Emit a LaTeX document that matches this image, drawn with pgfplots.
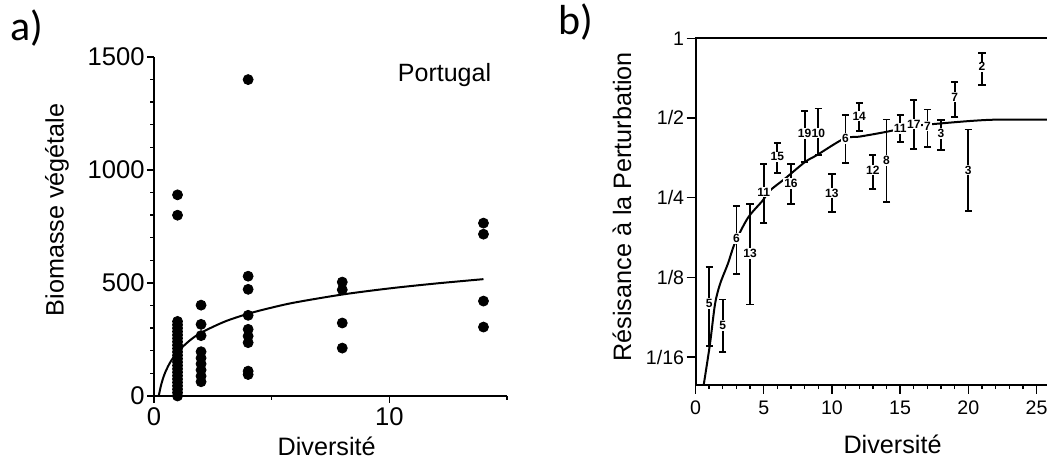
\documentclass[border=0pt]{standalone}
\usepackage{fontspec}
\setmainfont{Liberation Sans}
\newfontfamily\carlito{Carlito}
\usepackage{pgfplots}
\pgfplotsset{compat=1.18}

\begin{document}
\begin{tikzpicture}
\useasboundingbox (0,0) rectangle (523.5pt,229.5pt);

\node[font=\carlito\fontsize{21}{24}\selectfont] at (13.5pt,215.5pt) {a)};
\node[font=\carlito\fontsize{21}{24}\selectfont] at (287.75pt,218.25pt) {b)};

% panel a
\begin{axis}[
    at={(77pt,31.5pt)}, anchor=south west,
    scale only axis, width=176.5pt, height=169.5pt,
    xmin=0, xmax=15, ymin=0, ymax=1500,
    axis x line*=bottom, axis y line*=left,
    axis line style={line width=0.9pt},
    xtick={0,10}, minor xtick={5,15},
    ytick={0,500,1000,1500}, minor y tick num=4,
    tick align=outside,
    major tick length=3.5pt, minor tick length=2pt,
    every tick/.style={black, line width=0.7pt},
    tick label style={font=\fontsize{12.8}{14}\selectfont},
    /pgf/number format/assume math mode=true,
    /pgf/number format/1000 sep={},
    yticklabel style={inner sep=1pt},
    xticklabel style={inner sep=2pt},
    xlabel={Diversité}, ylabel={Biomasse végétale},
    label style={font=\fontsize{12.6}{14}\selectfont},
    xlabel style={at={(axis description cs:0.489,-0.1475)}, anchor=center},
    ylabel style={at={(axis description cs:-0.275,0.549)}, anchor=center},
    clip=false,
]
\addplot[only marks, mark=*, mark size=2.5pt, black] coordinates {
(1,0) (1,15) (1,30) (1,45) (1,60) (1,75) (1,90) (1,105) (1,120) (1,135)
(1,150) (1,165) (1,180) (1,195) (1,210) (1,225) (1,240) (1,255) (1,270)
(1,285) (1,300) (1,315) (1,330) (1,800) (1,890)
(2,63) (2,88) (2,115) (2,142) (2,168) (2,196) (2,267) (2,317) (2,402)
(4,95) (4,110) (4,236) (4,265) (4,295) (4,357) (4,472) (4,530) (4,1400)
(8,212) (8,323) (8,470) (8,504)
(14,305) (14,420) (14,716) (14,765)
};
\addplot[black, line width=1pt, smooth] coordinates {
(0.2,0) (0.3,48) (0.4,83) (0.5,110) (0.7,151) (1,195) (1.5,244) (2,280)
(3,329) (4,364) (5,391) (6,414) (8,449) (10,476) (12,498) (14,517)
};
\node[font=\fontsize{12.5}{14}\selectfont] at (axis description cs:0.823,0.947) {Portugal};
\end{axis}

% panel b
\begin{axis}[
    at={(347.75pt,37pt)}, anchor=south west,
    scale only axis, width=184.15pt, height=173.35pt,
    xmin=0, xmax=27, ymin=0.049, ymax=1,
    ymode=log, log basis y=2,
    axis line style={line width=1pt},
    tick pos=left, tick align=outside,
    xtick={0,5,10,15,20,25}, minor x tick num=4,
    ytick={0.0625,0.125,0.25,0.5,1},
    yticklabels={1/16,1/8,1/4,1/2,1},
    major tick length=4.5pt, minor tick length=2pt,
    every tick/.style={black, line width=0.7pt},
    tick label style={font=\fontsize{9.8}{11}\selectfont},
    /pgf/number format/assume math mode=true,
    yticklabel style={inner sep=1pt},
    xlabel={Diversité}, ylabel={Résisance à la Perturbation},
    label style={font=\fontsize{12.6}{14}\selectfont},
    xlabel style={at={(axis description cs:0.535,-0.17)}, anchor=center},
    ylabel style={at={(axis description cs:-0.1996,0.514)}, anchor=center},
]
\addplot[black, line width=1pt, smooth] coordinates {
(0.6,0.049) (1.06,0.070) (1.43,0.099) (1.8,0.118) (2.38,0.141) (2.9,0.169)
(3.85,0.210) (4.9,0.243) (5.46,0.266) (6.56,0.295) (8.03,0.341) (8.9,0.362)
(10.9,0.418) (12,0.425) (13.97,0.443) (16,0.466) (18,0.477) (20.37,0.488)
(22.3,0.493) (27,0.493)
};
\addplot[draw=none, mark=none,
    error bars/.cd, y dir=both, y explicit,
    error mark=|,
    error bar style={line width=0.9pt, black},
    error mark options={black, line width=0.9pt, mark size=1.8pt},
    ] table[x=x, y=y, y error plus=ep, y error minus=em] {
x  y      ep     em
1  0.0994 0.0371 0.0305
2  0.0821 0.0209 0.0170
3  0.1749 0.0575 0.0461
4  0.1535 0.0825 0.0548
5  0.2626 0.0735 0.0624
6  0.3564 0.0465 0.0458
7  0.2826 0.0516 0.0452
8  0.4365 0.0957 0.0956
9  0.4389 0.1043 0.0774
10 0.2602 0.0461 0.0396
11 0.4181 0.0944 0.0798
12 0.5076 0.0629 0.0608
13 0.3174 0.0441 0.0469
14 0.3461 0.1473 0.1058
15 0.4561 0.0564 0.0503
16 0.4735 0.1106 0.0925
17 0.4655 0.0729 0.0769
18 0.4365 0.0538 0.0590
19 0.6007 0.0843 0.0958
20 0.3174 0.1347 0.0950
21 0.7805 0.0967 0.1149
};
\addplot[draw=none, mark=none, nodes near coords, point meta=explicit symbolic,
    every node near coord/.style={anchor=center, fill=white, text=black,
    inner sep=0.5pt, font=\fontsize{6}{6}\selectfont\bfseries}]
    table[x=x, y=y, meta=lab] {
x  y      lab
1  0.0994 5
2  0.0821 5
3  0.1749 6
4  0.1535 13
5  0.2626 11
6  0.3564 15
7  0.2826 16
8  0.4365 19
9  0.4389 10
10 0.2602 13
11 0.4181 6
12 0.5076 14
13 0.3174 12
14 0.3461 8
15 0.4561 11
16 0.4735 17
17 0.4655 7
18 0.4365 3
19 0.6007 7
20 0.3174 3
21 0.7805 2
};
\end{axis}
\end{tikzpicture}
\end{document}
